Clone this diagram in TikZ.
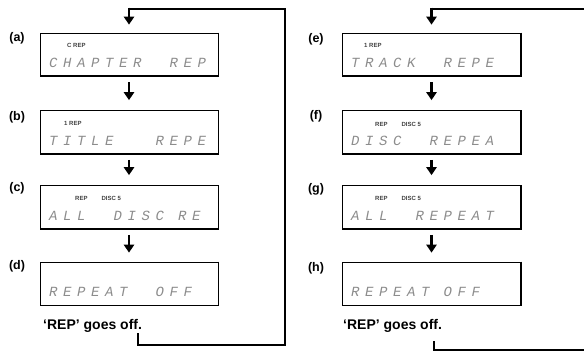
\documentclass[tikz,border=0pt]{standalone}
\usepackage{fontspec}
\setmainfont{Liberation Sans}
\newfontfamily\segfont[LetterSpace=40]{Liberation Mono}
\usetikzlibrary{arrows.meta}
\tikzset{
  disp/.style={draw, line width=0.6pt, minimum width=178pt, minimum height=43pt, inner sep=0pt},
  dedge/.style={line width=1.6pt},
  lbl/.style={font=\bfseries\fontsize{12.5}{13}\selectfont, inner sep=0pt},
  ind/.style={font=\bfseries\fontsize{6}{7}\selectfont, text=black!75, anchor=west, inner sep=0pt},
  seg/.style={font=\segfont\itshape\fontsize{14}{15}\selectfont, text=black!45, anchor=west, inner sep=0pt},
  note/.style={font=\bfseries\fontsize{14}{16}\selectfont, anchor=base west, inner sep=0pt},
  darr/.style={line width=2.8pt, -{Triangle[width=10pt,length=8pt]}},
  loopl/.style={line width=2.8pt},
}
\begin{document}
\begin{tikzpicture}[x=1pt,y=-1pt]
\useasboundingbox (0,0) rectangle (584,353);
% left column displays
\node[disp] (a) at (129,54.5) {};
\node[disp] (b) at (129,132) {};
\node[disp] (c) at (129,207) {};
\node[disp] (d) at (129,283.5) {};
% right column displays
\node[disp] (e) at (431.5,54.5) {};
\node[disp] (f) at (431.5,132) {};
\node[disp] (g) at (431.5,207) {};
\node[disp] (h) at (431.5,283.5) {};
\foreach \n in {a,b,c,d,e,f,g,h}{
  \draw[dedge] (\n.north east) -- (\n.south east) -- (\n.south west);
}
% labels
\node[lbl] (la) at (17,38) {(a)};
\node[lbl] (lb) at (17,117) {(b)};
\node[lbl] (lc) at (17,188) {(c)};
\node[lbl] (ld) at (17,266) {(d)};
\node[lbl] (le) at (316,39) {(e)};
\node[lbl] (lf) at (316,116) {(f)};
\node[lbl] (lg) at (316,189) {(g)};
\node[lbl] (lh) at (316,268) {(h)};
% indicators
\node[ind] (ia) at (67,45) {C REP};
\node[ind] (ib) at (64,123) {1 REP};
\node[ind] (ic) at (75,198) {REP\hspace{14pt}DISC 5};
\node[ind] (ie) at (364,45) {1 REP};
\node[ind] (if) at (375,124) {REP\hspace{14pt}DISC 5};
\node[ind] (ig) at (375,198) {REP\hspace{14pt}DISC 5};
% segment texts
\node[seg] (ta) at (49,63) {CHAPTER\ \ REP};
\node[seg] (tb) at (49,141) {TITLE\ \ \ REPE};
\node[seg] (tc) at (49,216) {ALL\ \ DISC RE};
\node[seg] (td) at (49,292) {REPEAT\ \ OFF};
\node[seg] (te) at (351,63) {TRACK\ \ REPE};
\node[seg] (tf) at (351,141) {DISC\ \ REPEA};
\node[seg] (tg) at (351,216) {ALL\ \ REPEAT};
\node[seg] (th) at (351,292) {REPEAT OFF};
% notes
\node[note] (nl) at (43,329) {`REP' goes off.};
\node[note] (nr) at (343,329) {`REP' goes off.};
% down arrows
\draw[darr, shorten <=6pt, shorten >=10pt] (a) -- (b);
\draw[darr, shorten <=6pt, shorten >=10pt] (b) -- (c);
\draw[darr, shorten <=6pt, shorten >=9pt] (c) -- (d);
\draw[darr, shorten <=6pt, shorten >=10pt] (e) -- (f);
\draw[darr, shorten <=6pt, shorten >=10pt] (f) -- (g);
\draw[darr, shorten <=6pt, shorten >=9pt] (g) -- (h);
% loop left
\coordinate (l1) at (138,333);
\coordinate (l2) at (285,345);
\coordinate (l3) at (285,9);
\coordinate (l4) at (129,9);
\draw[loopl] (l1) |- (l2) -- (l3) -- (l4);
\draw[darr, shorten <=-1.4pt] (l4) -- ([yshift=8pt]a.north);
% loop right
\coordinate (r1) at (584,9);
\coordinate (r4) at (431.5,9);
\draw[loopl] (r1) -- (r4);
\draw[darr, shorten <=-1.4pt] (r4) -- ([yshift=8pt]e.north);
\coordinate (r2) at (434,341);
\coordinate (r3) at (584,350);
\draw[loopl] (r2) |- (r3);
\end{tikzpicture}
\end{document}
